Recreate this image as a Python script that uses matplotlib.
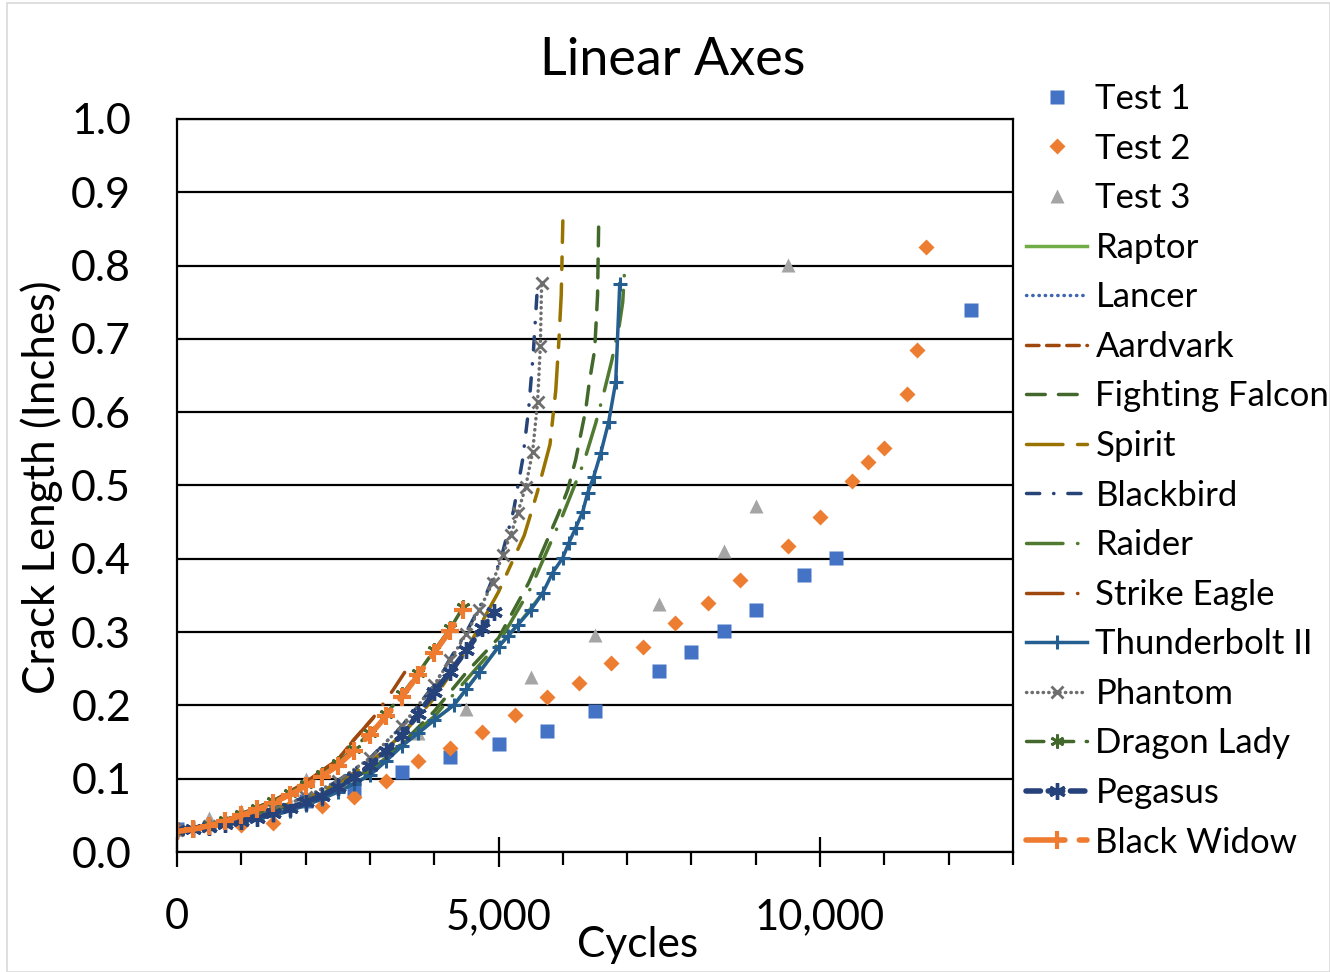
import matplotlib.pyplot as plt
from matplotlib.patches import Rectangle
from matplotlib.ticker import FuncFormatter, FixedLocator

plt.rcParams['font.family'] = ['Lato', 'DejaVu Sans']

# measured test data (cycles, crack length in inches)
test1_cycles = [0, 2000, 2750, 3500, 4250, 5000, 5750, 6500, 7500, 8000, 8500, 9000, 9750, 10250, 12350]
test1_crack = [0.031, 0.070, 0.086, 0.109, 0.130, 0.147, 0.165, 0.192, 0.247, 0.273, 0.301, 0.330, 0.378, 0.401, 0.739]

test2_cycles = [0, 1000, 1500, 2250, 2750, 3250, 3750, 4250, 4750, 5250, 5750, 6250, 6750, 7250, 7750,
                8250, 8750, 9500, 10000, 10500, 10750, 11000, 11350, 11500, 11650]
test2_crack = [0.030, 0.037, 0.040, 0.063, 0.075, 0.097, 0.124, 0.142, 0.164, 0.187, 0.211, 0.231, 0.258, 0.280, 0.312,
               0.340, 0.371, 0.417, 0.457, 0.506, 0.532, 0.551, 0.625, 0.685, 0.825]

test3_cycles = [0, 500, 1000, 2000, 3750, 4500, 5500, 6500, 7500, 8500, 9000, 9500]
test3_crack = [0.033, 0.046, 0.056, 0.100, 0.162, 0.195, 0.239, 0.296, 0.338, 0.411, 0.472, 0.801]

# model predictions
raptor_cycles = [0, 500, 1000, 1500, 2000, 2500, 3000, 3500, 4000, 4300, 4700, 5000, 5300, 5685]
raptor_crack = [0.030, 0.034, 0.041, 0.050, 0.064, 0.082, 0.105, 0.145, 0.180, 0.200, 0.245, 0.280, 0.310, 0.353]

lancer_cycles = [0, 500, 1000, 1500, 2000, 2500, 3000, 3500, 4000, 4500, 4900]
lancer_crack = [0.030, 0.034, 0.042, 0.053, 0.068, 0.088, 0.118, 0.160, 0.218, 0.275, 0.324]

aardvark_cycles = [0, 500, 1000, 1500, 2000, 2500, 2750, 3050]
aardvark_crack = [0.030, 0.037, 0.052, 0.070, 0.095, 0.126, 0.153, 0.183]

falcon_cycles = [0, 1000, 2000, 2500, 3000, 3500, 4000, 4500, 5000, 5467, 5623, 5779, 5935, 6075, 6199,
                 6355, 6410, 6495, 6540, 6558]
falcon_crack = [0.030, 0.044, 0.070, 0.089, 0.113, 0.148, 0.192, 0.245, 0.292, 0.367, 0.398, 0.430, 0.462, 0.494, 0.535,
                0.603, 0.640, 0.685, 0.760, 0.862]

spirit_cycles = [0, 1000, 2000, 2500, 3000, 3500, 4000, 4500, 5000, 5400, 5600, 5800, 5890, 5940, 5975, 6000]
spirit_crack = [0.030, 0.045, 0.073, 0.094, 0.122, 0.160, 0.210, 0.275, 0.355, 0.432, 0.490, 0.556, 0.630, 0.700, 0.760, 0.861]

blackbird_cycles = [0, 1000, 2000, 2500, 3000, 3500, 4000, 4500, 4800, 5031, 5234, 5374, 5467, 5540, 5607]
blackbird_crack = [0.030, 0.045, 0.075, 0.097, 0.128, 0.172, 0.228, 0.300, 0.350, 0.398, 0.466, 0.535, 0.603, 0.680, 0.774]

raider_cycles = [0, 1000, 2000, 3000, 4000, 4500, 5000, 5500, 6000, 6324, 6511, 6636, 6760, 6880, 6931, 6963]
raider_crack = [0.030, 0.044, 0.069, 0.110, 0.185, 0.235, 0.285, 0.360, 0.460, 0.531, 0.585, 0.626, 0.670, 0.720, 0.750, 0.798]

eagle_cycles = [0, 500, 1000, 1500, 2000, 2500, 2750, 3050, 3360, 3540]
eagle_crack = [0.030, 0.037, 0.052, 0.070, 0.095, 0.126, 0.153, 0.183, 0.221, 0.245]

thunderbolt_cycles = [0, 250, 500, 750, 1000, 1250, 1500, 1750, 2000, 2250, 2500, 2750, 3000, 3250, 3500, 3750,
                      4000, 4300, 4500, 4700, 5000, 5150, 5300, 5500, 5685, 5841, 5997, 6090, 6199, 6308, 6386,
                      6480, 6589, 6713, 6822, 6885]
thunderbolt_crack = [0.030, 0.032, 0.034, 0.037, 0.041, 0.045, 0.050, 0.056, 0.064, 0.072, 0.082, 0.093, 0.105,
                     0.124, 0.145, 0.162, 0.180, 0.200, 0.222, 0.245, 0.280, 0.295, 0.310, 0.330, 0.353, 0.381,
                     0.401, 0.421, 0.442, 0.464, 0.490, 0.512, 0.544, 0.587, 0.641, 0.775]

phantom_cycles = [0, 500, 1000, 1500, 2000, 2500, 3000, 3500, 4000, 4250, 4500, 4700, 4907, 5062, 5187, 5296,
                  5421, 5530, 5607, 5650, 5670]
phantom_crack = [0.030, 0.035, 0.045, 0.058, 0.075, 0.097, 0.128, 0.172, 0.228, 0.262, 0.298, 0.330, 0.367, 0.405,
                 0.432, 0.462, 0.498, 0.546, 0.614, 0.690, 0.776]

dragon_cycles = [0, 250, 500, 750, 1000, 1250, 1500, 1750, 2000, 2250, 2500, 2750, 3000, 3250, 3500, 3750, 4000,
                 4250, 4450]
dragon_crack = [0.029, 0.032, 0.037, 0.044, 0.052, 0.060, 0.070, 0.081, 0.093, 0.106, 0.122, 0.141, 0.163, 0.188,
                0.215, 0.244, 0.275, 0.305, 0.334]

pegasus_cycles = [0, 250, 500, 750, 1000, 1250, 1500, 1750, 2000, 2250, 2500, 2750, 3000, 3250, 3500, 3750, 4000,
                  4250, 4500, 4750, 4922]
pegasus_crack = [0.030, 0.032, 0.034, 0.038, 0.042, 0.047, 0.053, 0.060, 0.068, 0.077, 0.088, 0.102, 0.118, 0.138,
                 0.160, 0.188, 0.218, 0.246, 0.275, 0.305, 0.327]

widow_cycles = [0, 250, 500, 750, 1000, 1250, 1500, 1750, 2000, 2250, 2500, 2750, 3000, 3250, 3500, 3750, 4000,
                4250, 4450]
widow_crack = [0.028, 0.031, 0.036, 0.042, 0.050, 0.058, 0.067, 0.078, 0.090, 0.103, 0.118, 0.138, 0.160, 0.185,
               0.212, 0.241, 0.272, 0.302, 0.330]

fig = plt.figure(figsize=(13.3, 9.72), dpi=100)
ax = fig.add_axes([177 / 1330, 1 - 852 / 972, 836 / 1330, 733 / 972])

ax.plot(test1_cycles, test1_crack, ls='none', marker='s', ms=9.5, color='#4472C4', mec='none', label='Test 1')
ax.plot(test2_cycles, test2_crack, ls='none', marker='D', ms=8, color='#ED7D31', mec='none', label='Test 2')
ax.plot(test3_cycles, test3_crack, ls='none', marker='^', ms=10, color='#A5A5A5', mec='none', label='Test 3')

lw = 2.5
star = (6, 2, 0)
ax.plot(raptor_cycles, raptor_crack, color='#70AD47', lw=lw, label='Raptor')
ax.plot(lancer_cycles, lancer_crack, color='#3F67B0', lw=lw, ls=(0, (0.1, 1.7)),
        dash_capstyle='round', label='Lancer')
ax.plot(aardvark_cycles, aardvark_crack, color='#9E480E', lw=lw, ls=(0, (3.6, 2.2)),
        dash_capstyle='round', label='Aardvark')
ax.plot(falcon_cycles, falcon_crack, color='#43682B', lw=lw, ls=(0, (5.4, 3.8)),
        dash_capstyle='round', label='Fighting Falcon')
ax.plot(spirit_cycles, spirit_crack, color='#997300', lw=lw, ls=(0, (10.5, 4.2, 3.6, 4.2)),
        dash_capstyle='round', label='Spirit')
ax.plot(blackbird_cycles, blackbird_crack, color='#264478', lw=lw, ls=(0, (3.8, 4.0, 0.1, 4.0)),
        dash_capstyle='round', label='Blackbird')
ax.plot(raider_cycles, raider_crack, color='#4F7A2F', lw=lw, ls=(0, (10.5, 4.2, 0.1, 4.2)),
        dash_capstyle='round', label='Raider')
ax.plot(eagle_cycles, eagle_crack, color='#9E480E', lw=lw, ls=(0, (10.5, 4.2, 0.1, 4.2)),
        dash_capstyle='round', label='Strike Eagle')
ax.plot(thunderbolt_cycles, thunderbolt_crack, color='#255E91', lw=lw, marker='+', ms=10, mew=2.2,
        label='Thunderbolt II')
ax.plot(phantom_cycles, phantom_crack, color='#6E6E6E', lw=lw, ls=(0, (0.1, 1.5)), dash_capstyle='round',
        marker='x', ms=8, mew=2, label='Phantom')
ax.plot(dragon_cycles, dragon_crack, color='#43682B', lw=lw, ls=(0, (5.0, 3.6)), dash_capstyle='round',
        marker=star, ms=10, mew=2, label='Dragon Lady')
ax.plot(pegasus_cycles, pegasus_crack, color='#26427A', lw=4, ls=(0, (2.6, 1.4)), dash_capstyle='round',
        marker=star, ms=12, mew=2.4, label='Pegasus')
ax.plot(widow_cycles, widow_crack, color='#EE7B30', lw=4, ls=(0, (7.0, 2.6)), dash_capstyle='round',
        marker='+', ms=13, mew=3, label='Black Widow')

ax.set_xlim(0, 13000)
ax.set_ylim(0, 1.0)
ax.set_yticks([i / 10 for i in range(11)])
ax.yaxis.set_major_formatter(FuncFormatter(lambda v, p: f'{v:.1f}'))
ax.set_xticks([0, 5000, 10000])
ax.xaxis.set_minor_locator(FixedLocator([1000, 2000, 3000, 4000, 6000, 7000, 8000, 9000, 11000, 12000, 13000]))
ax.xaxis.set_major_formatter(FuncFormatter(lambda v, p: f'{int(v):,}'))
ax.grid(axis='y', color='black', lw=1.6)
ax.set_axisbelow(True)
for s in ax.spines.values():
    s.set_color('black')
    s.set_linewidth(1.6)

ax.tick_params(axis='y', length=0, pad=33, labelsize=31)
ax.tick_params(axis='x', which='major', direction='inout', length=22, width=1.6, pad=22, labelsize=30)
ax.tick_params(axis='x', which='minor', direction='out', length=9, width=1.6)

ax.set_xlabel('Cycles', fontsize=30.5)
ax.xaxis.set_label_coords((638 - 177) / 836, (852 - 945) / 733)
ax.xaxis.label.set_va('center')
ax.set_ylabel('Crack Length (Inches)', fontsize=31.5)
ax.yaxis.set_label_coords((42 - 177) / 836, (852 - 487) / 733)
ax.yaxis.label.set_va('center')

fig.text(673 / 1330, 1 - 60 / 972, 'Linear Axes', ha='center', va='center', fontsize=37.5)

fig.legend(*ax.get_legend_handles_labels(), loc='upper left', bbox_to_anchor=(1026 / 1330, 1 - 83 / 972),
           frameon=False, fontsize=25, handlelength=1.76, handletextpad=0.24, labelspacing=0.506,
           borderpad=0, borderaxespad=0)

fig.patches.append(Rectangle((7 / 1330, 0), 1 - 7 / 1330, 1 - 3 / 972, transform=fig.transFigure,
                             fill=False, edgecolor='#D9D9D9', lw=1.2))

fig.savefig('out.png', dpi=100)
